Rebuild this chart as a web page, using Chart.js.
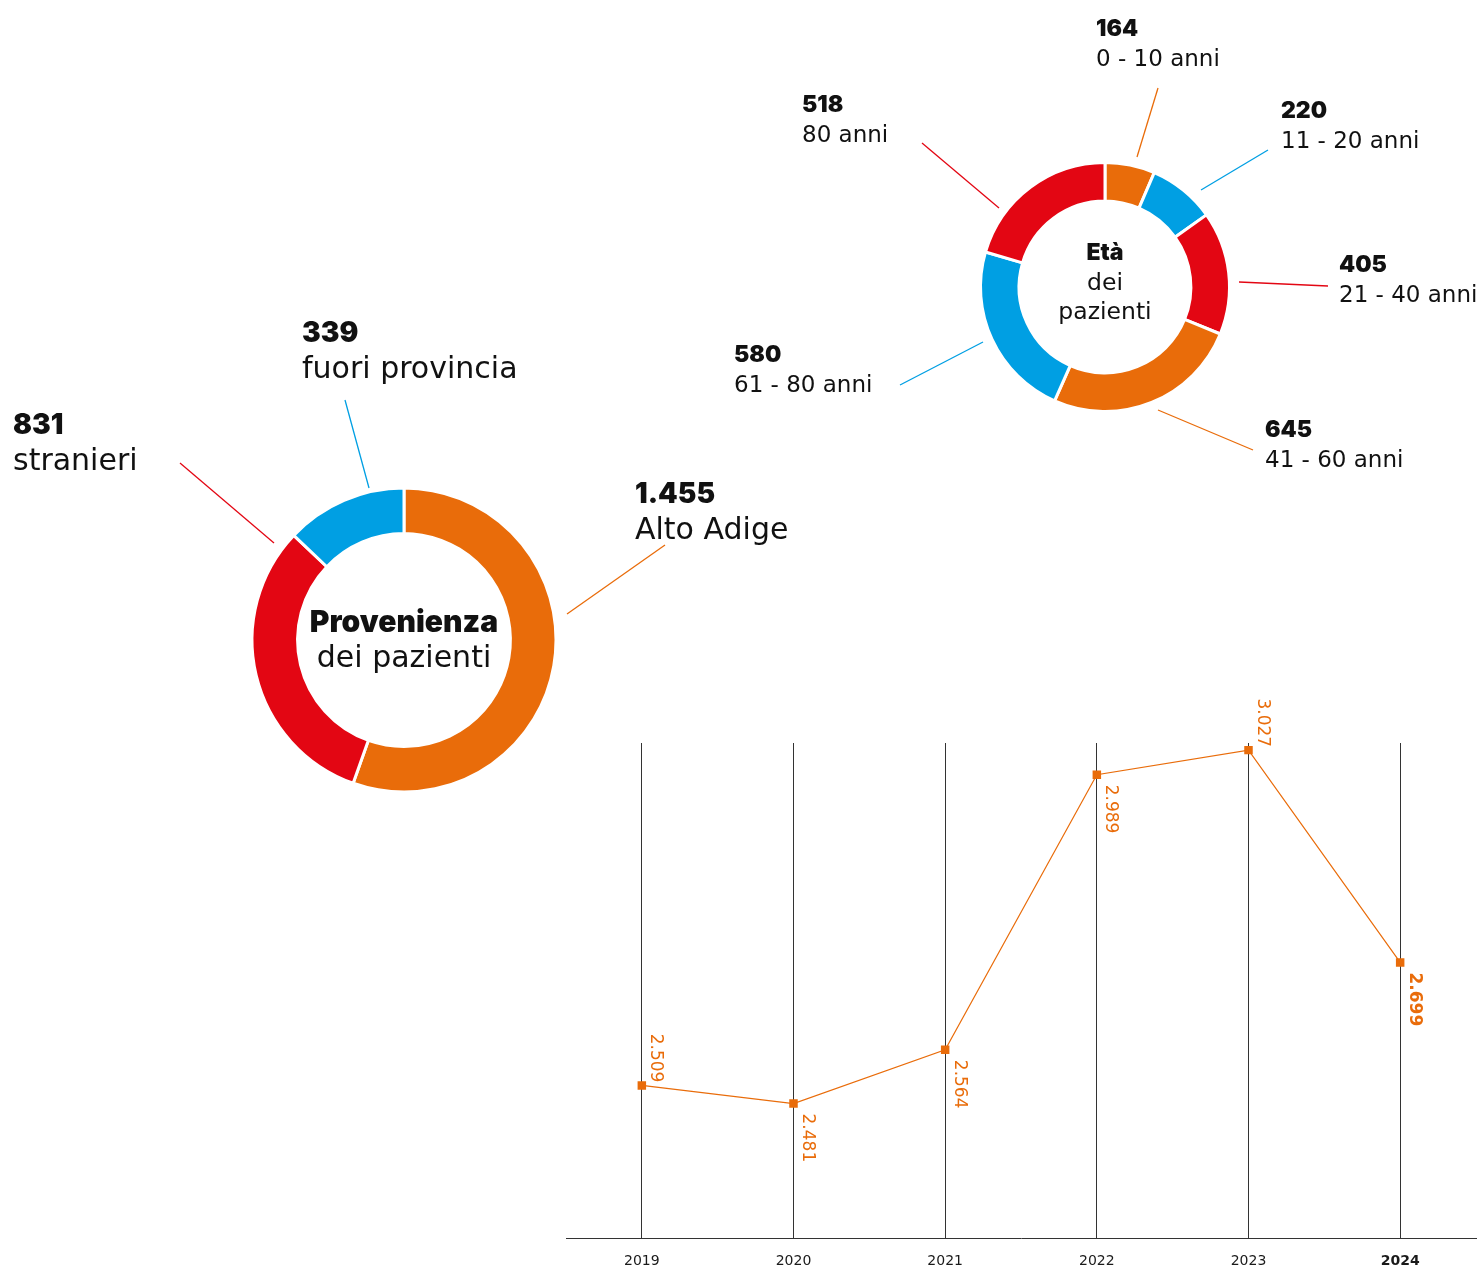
<!DOCTYPE html>
<html lang="it">
<head>
  <meta charset="UTF-8" />
  <title>Pazienti</title>
  <script src="https://cdn.jsdelivr.net/npm/chart.js"></script>
  <style>
    html, body { margin: 0; padding: 0; background: #fff; }
    body { width: 1483px; height: 1268px; position: relative; overflow: hidden; }
    .box { position: absolute; }
    #boxProv { left: 0; top: 300px; width: 820px; height: 520px; }
    #boxEta { left: 700px; top: 0; width: 783px; height: 500px; }
    #boxTrend { left: 545px; top: 690px; width: 938px; height: 595px; }
  </style>
</head>
<body>
  <div class="box" id="boxProv"><canvas id="provChart"></canvas></div>
  <div class="box" id="boxEta"><canvas id="etaChart"></canvas></div>
  <div class="box" id="boxTrend"><canvas id="trendChart"></canvas></div>

  <script>
    // dati
    const provLabels = ["Alto Adige", "stranieri", "fuori provincia"];
    const provValues = [1455, 831, 339];

    const etaLabels = ["0 - 10 anni", "11 - 20 anni", "21 - 40 anni", "41 - 60 anni", "61 - 80 anni", "80 anni"];
    const etaValues = [164, 220, 405, 645, 580, 518];

    const years = ["2019", "2020", "2021", "2022", "2023", "2024"];
    const patients = [2509, 2481, 2564, 2989, 3027, 2699];

    // stile
    const ORANGE = "#e96c0a";
    const RED = "#e30613";
    const BLUE = "#009fe3";
    const FONT = '"DejaVu Sans", sans-serif';
    const FONT_BOLD = 'Inter, "Open Sans", sans-serif';

    const fmt = (v) => String(v).replace(/\B(?=(\d{3})+(?!\d))/g, ".");

    // posizione delle etichette rispetto al centro della ciambella
    const provCallouts = [
      { line: [163, -26, 261, -95], text: [231, -137] },
      { line: [-130, -97, -224, -177], text: [-391, -206] },
      { line: [-35, -152, -59, -240], text: [-102, -298] }
    ];
    const etaCallouts = [
      { line: [32, -130, 53, -199], text: [-9, -251] },
      { line: [96, -97, 163, -137], text: [176, -169] },
      { line: [134, -5, 223, -1], text: [234, -15] },
      { line: [53, 123, 148, 163], text: [160, 150] },
      { line: [-122, 55, -205, 98], text: [-371, 75] },
      { line: [-106, -79, -183, -144], text: [-303, -175] }
    ];

    const calloutPlugin = {
      id: "callouts",
      afterDraw(chart, args, opts) {
        const arc = chart.getDatasetMeta(0).data[0];
        const cx = arc.x, cy = arc.y;
        const ds = chart.data.datasets[0];
        const ctx = chart.ctx;
        ctx.save();
        ctx.textAlign = "left";
        ctx.textBaseline = "alphabetic";
        opts.items.forEach((c, i) => {
          ctx.strokeStyle = ds.backgroundColor[i];
          ctx.lineWidth = 1.3;
          ctx.beginPath();
          ctx.moveTo(cx + c.line[0], cy + c.line[1]);
          ctx.lineTo(cx + c.line[2], cy + c.line[3]);
          ctx.stroke();

          ctx.fillStyle = "#111";
          ctx.font = `900 ${opts.numSize}px ${FONT_BOLD}`;
          ctx.fillText(fmt(ds.data[i]), cx + c.text[0], cy + c.text[1]);
          ctx.font = `400 ${opts.size}px ${FONT}`;
          ctx.fillText(chart.data.labels[i], cx + c.text[0], cy + c.text[1] + opts.gap);
        });

        // titolo al centro
        ctx.textAlign = "center";
        ctx.fillStyle = "#111";
        opts.center.forEach((t) => {
          ctx.font = t.bold ? `900 ${opts.centerBold}px ${FONT_BOLD}` : `400 ${opts.centerSize}px ${FONT}`;
          ctx.fillText(t.text, cx, cy + t.dy);
        });
        ctx.restore();
      }
    };

    new Chart(document.getElementById("provChart"), {
      type: "doughnut",
      data: {
        labels: provLabels,
        datasets: [{
          data: provValues,
          backgroundColor: [ORANGE, RED, BLUE],
          borderColor: "#fff",
          borderWidth: 3
        }]
      },
      options: {
        responsive: true,
        maintainAspectRatio: false,
        animation: false,
        radius: 152,
        cutout: "70%",
        layout: { padding: { left: 254, right: 266, top: 190, bottom: 30 } },
        plugins: {
          legend: { display: false },
          tooltip: { enabled: false },
          callouts: {
            items: provCallouts,
            size: 30,
            numSize: 28,
            gap: 36,
            centerSize: 30,
            centerBold: 30,
            center: [
              { text: "Provenienza", bold: true, dy: -8 },
              { text: "dei pazienti", bold: false, dy: 27 }
            ]
          }
        }
      },
      plugins: [calloutPlugin]
    });

    new Chart(document.getElementById("etaChart"), {
      type: "doughnut",
      data: {
        labels: etaLabels,
        datasets: [{
          data: etaValues,
          backgroundColor: [ORANGE, BLUE, RED, ORANGE, BLUE, RED],
          borderColor: "#fff",
          borderWidth: 3
        }]
      },
      options: {
        responsive: true,
        maintainAspectRatio: false,
        animation: false,
        radius: 124.5,
        cutout: "69%",
        layout: { padding: { left: 280, right: 253, top: 162, bottom: 88 } },
        plugins: {
          legend: { display: false },
          tooltip: { enabled: false },
          callouts: {
            items: etaCallouts,
            size: 23,
            numSize: 23,
            gap: 29.5,
            centerSize: 23.5,
            centerBold: 23,
            center: [
              { text: "Età", bold: true, dy: -27 },
              { text: "dei", bold: false, dy: 3 },
              { text: "pazienti", bold: false, dy: 32 }
            ]
          }
        }
      },
      plugins: [calloutPlugin]
    });

    // etichette dei valori, ruotate di 90°
    const labelSide = ["above", "below", "below", "below", "above", "below"];
    const lastIndex = years.length - 1;

    const valueLabels = {
      id: "valueLabels",
      afterDatasetsDraw(chart) {
        const meta = chart.getDatasetMeta(0);
        const ctx = chart.ctx;
        ctx.save();
        ctx.fillStyle = ORANGE;
        ctx.textBaseline = "middle";
        meta.data.forEach((pt, i) => {
          const above = labelSide[i] === "above";
          ctx.save();
          ctx.translate(pt.x + 14, pt.y);
          ctx.rotate(Math.PI / 2);
          ctx.textAlign = above ? "right" : "left";
          ctx.font = `${i === lastIndex ? 700 : 400} 17px ${FONT}`;
          ctx.fillText(fmt(chart.data.datasets[0].data[i]), above ? -3 : 10, 0);
          ctx.restore();
        });
        ctx.restore();
      }
    };

    new Chart(document.getElementById("trendChart"), {
      type: "line",
      data: {
        labels: years,
        datasets: [{
          data: patients,
          borderColor: ORANGE,
          borderWidth: 1.2,
          tension: 0,
          pointStyle: "rect",
          pointRadius: 6,
          pointBorderWidth: 0,
          pointBackgroundColor: ORANGE
        }]
      },
      options: {
        responsive: true,
        maintainAspectRatio: false,
        animation: false,
        layout: { padding: { left: 21, right: 7, top: 53, bottom: 0 } },
        plugins: { legend: { display: false }, tooltip: { enabled: false } },
        scales: {
          x: {
            offset: true,
            grid: { offset: false, color: "#333", lineWidth: 1, drawTicks: false },
            border: { color: "#333", width: 1 },
            ticks: {
              color: "#1a1a1a",
              padding: 15,
              font: (c) => ({ family: FONT, size: 14, weight: c.index === lastIndex ? "bold" : "normal" })
            }
          },
          y: { display: false, min: 2273, max: 3038 }
        }
      },
      plugins: [valueLabels]
    });
  </script>
</body>
</html>
